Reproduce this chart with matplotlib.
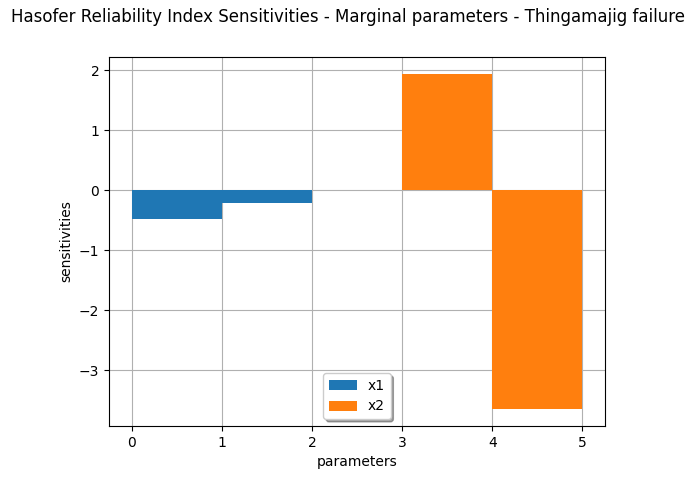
import matplotlib
matplotlib.use("Agg")
import matplotlib.pyplot as plt

# == Data ==
x1_pos = [0, 1]
x1_vals = [-0.48, -0.21]
x2_pos = [3, 4]
x2_vals = [1.94, -3.65]
labels = ["x1", "x2"]
title = "Hasofer Reliability Index Sensitivities - Marginal parameters - Thingamajig failure"

fig = plt.figure(figsize=(6.98, 4.8), dpi=100)
ax = fig.add_axes([109 / 698, 1 - 426 / 480, 496 / 698, 369 / 480])

ax.bar(x1_pos, x1_vals, width=1.0, align="edge", label=labels[0], zorder=2)
ax.bar(x2_pos, x2_vals, width=1.0, align="edge", label=labels[1], zorder=2)

ax.grid(True, zorder=0)
ax.set_axisbelow(True)
ax.set_xlabel("parameters")
ax.set_ylabel("sensitivities")
ax.legend(loc="lower center", shadow=True)
fig.suptitle(title, x=348 / 698, y=1 - 8 / 480, va="top")

fig.savefig("out.png")
